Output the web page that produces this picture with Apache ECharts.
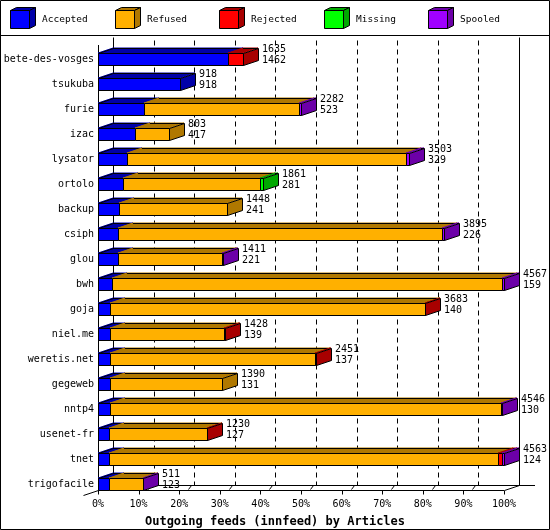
<!DOCTYPE html>
<html>
<head>
<meta charset="utf-8">
<script src="https://cdn.jsdelivr.net/npm/echarts@6/dist/echarts.min.js"></script>
<style>html,body{margin:0;padding:0;background:#fff}#c{width:550px;height:530px}</style>
</head>
<body>
<div id="c"></div>
<script>
const categories = ['bete-des-vosges','tsukuba','furie','izac','lysator','ortolo','backup','csiph','glou','bwh','goja','niel.me','weretis.net','gegeweb','nntp4','usenet-fr','tnet','trigofacile'];
const offered  = [1635,918,2282,803,3503,1861,1448,3895,1411,4567,3683,1428,2451,1390,4546,1230,4563,511];
const accepted = [1462,918,523,417,329,281,241,226,221,159,140,139,137,131,130,127,124,123];
const refused  = [0,0,1734,386,3136,1545,1207,3641,1178,4390,3535,1274,2306,1259,4406,1095,4374,383];
const rejected = [173,0,0,0,0,0,0,0,0,0,8,15,8,0,0,8,50,0];
const missing  = [0,0,0,0,0,35,0,0,0,0,0,0,0,0,0,0,0,0];
const spooled  = [0,0,25,0,38,0,0,28,12,18,0,0,0,0,10,0,15,5];
const seriesNames = ['Accepted','Refused','Rejected','Missing','Spooled'];
const tickLabels = ['0%','10%','20%','30%','40%','50%','60%','70%','80%','90%','100%'];
const titleText = 'Outgoing feeds (innfeed) by Articles';

const frontColors = ['#0000ff','#ffb000','#ff0000','#00ff00','#a000ff'];
const darkColors  = ['#0000a8','#b07800','#a80000','#00a800','#6c00a8'];
const DX = 15, DY = 5, HALF = 6;
const FONT = '10px "DejaVu Sans Mono"';

const valuesBySeries = [accepted, refused, rejected, missing, spooled];
const maxTotal = Math.max.apply(null, offered);
const n = categories.length;

// build segment data: [rowIndex, startPct, endPct, isLast]
const segData = valuesBySeries.map(() => []);
for (let i = 0; i < n; i++) {
  let cum = 0;
  let lastS = -1;
  for (let s = 0; s < 5; s++) if (valuesBySeries[s][i] > 0) lastS = s;
  for (let s = 0; s < 5; s++) {
    const v = valuesBySeries[s][i];
    if (v > 0) {
      segData[s].push([i, cum / maxTotal * 100, (cum + v) / maxTotal * 100, s === lastS ? 1 : 0]);
    }
    cum += v;
  }
}

function segRender(s) {
  return function (params, api) {
    const i = api.value(0);
    const pA = api.coord([api.value(1), i]);
    const pB = api.coord([api.value(2), i]);
    const x0 = Math.round(pA[0]), x1 = Math.round(pB[0]);
    const yc = Math.round(pA[1]);
    const yt = yc - HALF, yb = yc + HALF;
    const children = [];
    // top face
    children.push({type:'polygon', shape:{points:[[x0,yt],[x1,yt],[x1+DX,yt-DY],[x0+DX,yt-DY]]},
      style:{fill:darkColors[s], stroke:darkColors[s], lineWidth:1}});
    children.push({type:'line', shape:{x1:x0+DX, y1:yt-DY+0.5, x2:x1+DX, y2:yt-DY+0.5}, style:{stroke:'#000', lineWidth:1}});
    if (api.value(1) === 0) {
      children.push({type:'line', shape:{x1:x0+0.5, y1:yt+0.5, x2:x0+DX+0.5, y2:yt-DY+0.5}, style:{stroke:'#000', lineWidth:1}});
    }
    // front face
    children.push({type:'rect', shape:{x:x0+0.5, y:yt+0.5, width:Math.max(x1-x0,0), height:yb-yt},
      style:{fill:frontColors[s], stroke:'#000', lineWidth:1}});
    if (api.value(3) === 1) {
      children.push({type:'polygon', shape:{points:[[x1+0.5,yt+0.5],[x1+DX+0.5,yt-DY+0.5],[x1+DX+0.5,yb-DY+0.5],[x1+0.5,yb+0.5]]},
        style:{fill:darkColors[s], stroke:'#000', lineWidth:1}});
    }
    return {type:'group', children};
  };
}

function frameRender(params, api) {
  const x0 = Math.round(api.coord([0, 0])[0]);
  const x100 = Math.round(api.coord([100, 0])[0]);
  const yFirst = Math.round(api.coord([0, 0])[1]);
  const yLast = Math.round(api.coord([0, n - 1])[1]);
  const fF = yLast + HALF + 0.5;      // front floor
  const bF = fF - DY;                 // back floor
  const topY = Math.round(params.coordSys.y) - 10 + 0.5;
  const L = (a, b, c, d, dash) => ({type:'line', shape:{x1:a, y1:b, x2:c, y2:d},
    style:{stroke:'#000', lineWidth:1, lineDash: dash || null}});
  const ch = [];
  for (let k = 0; k <= 10; k++) {
    const xb = Math.round(api.coord([k * 10, 0])[0]) + DX + 0.5;
    if (k === 0 || k === 10) ch.push(L(xb, topY, xb, bF));
    else ch.push(L(xb, topY + 3, xb, bF, [5, 4]));
    const xf = Math.round(api.coord([k * 10, 0])[0]) + 0.5;
    ch.push(L(xf, fF, xf, fF + 4));
    if (k > 0 && k < 10) {
      ch.push(L(xf + 9, fF - 1, xf + 12, bF));
    }
  }
  ch.push(L(x0 + DX, bF, x100 + DX + 16, bF));
  ch.push(L(x0, fF, x100, fF));
  ch.push(L(x100 + 0.5, fF, x100 + DX + 0.5, bF));
  ch.push(L(x0 - 15 + 0.5, fF + 5, x0 + DX + 0.5, bF));
  ch.push(L(x0 + 0.5, yFirst - 14, x0 + 0.5, fF));
  return {type:'group', children: ch};
}

function labelRender(params, api) {
  const i = api.value(0);
  const p = api.coord([api.value(1), i]);
  return {type:'text', style:{text: offered[i] + '\n' + accepted[i], x: Math.round(p[0]) + 19, y: Math.round(p[1]) - 4,
    font: FONT, fill:'#000', verticalAlign:'middle', align:'left', lineHeight: 11}};
}

const series = [{type:'custom', name:'frame', coordinateSystem:'cartesian2d', clip:false, z:1,
  data:[[0,0]], renderItem: frameRender, silent:true}];
for (let s = 0; s < 5; s++) {
  series.push({type:'custom', name:seriesNames[s], coordinateSystem:'cartesian2d', clip:false, z:2,
    data: segData[s], renderItem: segRender(s), silent:true});
}
series.push({type:'custom', name:'labels', coordinateSystem:'cartesian2d', clip:false, z:3,
  data: offered.map((v, i) => [i, v / maxTotal * 100]), renderItem: labelRender, silent:true});

// legend graphics
const graphic = [
  {type:'rect', shape:{x:0.5, y:0.5, width:549, height:529}, style:{fill:null, stroke:'#000', lineWidth:1}, z:10},
  {type:'line', shape:{x1:0, y1:35.5, x2:550, y2:35.5}, style:{stroke:'#000', lineWidth:1}, z:10}
];
seriesNames.forEach((name, s) => {
  const lx = Math.round(10 + 104.5 * s);
  graphic.push({type:'polygon', shape:{points:[[lx+0.5,10.5],[lx+19.5,10.5],[lx+25.5,7.5],[lx+6.5,7.5]]}, style:{fill:darkColors[s], stroke:'#000', lineWidth:1}});
  graphic.push({type:'polygon', shape:{points:[[lx+19.5,10.5],[lx+25.5,7.5],[lx+25.5,25.5],[lx+19.5,28.5]]}, style:{fill:darkColors[s], stroke:'#000', lineWidth:1}});
  graphic.push({type:'rect', shape:{x:lx+0.5, y:10.5, width:19, height:18}, style:{fill:frontColors[s], stroke:'#000', lineWidth:1}});
  graphic.push({type:'text', style:{text:name, x:lx+32, y:20, font:'9.5px "DejaVu Sans Mono"', fill:'#000', verticalAlign:'middle'}});
});

const chart = echarts.init(document.getElementById('c'), null, {renderer:'canvas'});
chart.setOption({
  animation:false,
  backgroundColor:'#fff',
  title:{text:titleText, left:'center', top:511, textStyle:{fontFamily:'DejaVu Sans Mono', fontWeight:'bold', fontSize:12, color:'#000'}},
  grid:{left:98, width:406, top:46.5, bottom:33.5, containLabel:false},
  xAxis:{type:'value', min:0, max:100, interval:10, axisLine:{show:false}, axisTick:{show:false}, splitLine:{show:false},
    axisLabel:{formatter:(v) => tickLabels[Math.round(v / 10)], fontFamily:'DejaVu Sans Mono', fontSize:10, color:'#000', margin:3}},
  yAxis:{type:'category', data:categories, inverse:true, axisLine:{show:false}, axisTick:{show:false}, splitLine:{show:false},
    axisLabel:{fontFamily:'DejaVu Sans Mono', fontSize:10, color:'#000', margin:4}},
  graphic: graphic,
  series: series
});
</script>
</body>
</html>
